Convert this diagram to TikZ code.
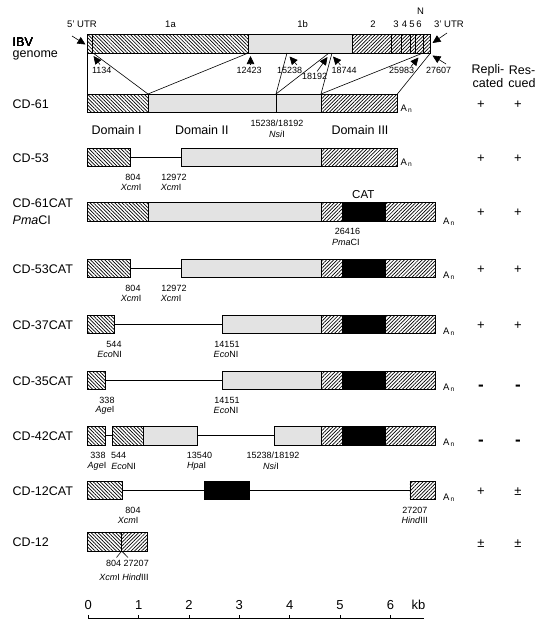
\documentclass[tikz,border=0pt]{standalone}
\usepackage{fontspec}
\setmainfont{Liberation Sans}
\usetikzlibrary{arrows.meta,patterns.meta}
\newcommand{\segm}[4]{\draw[#4] (#1,#3) rectangle (#2,#3+18.5);}
\newcommand{\linkr}[3]{\draw[linker] (#1,#3+9.25) -- (#2,#3+9.25);}
\newcommand{\cattail}[1]{\segm{321}{342.7}{#1}{hatchB}\segm{342.7}{385}{#1}{catseg}\segm{385}{435.6}{#1}{hatchB}}
\newcommand{\nosign}{{\fontsize{17}{17}\selectfont\bfseries -}}
\newcommand{\enz}[2]{\textit{#1}#2}
\newcommand{\polyA}{A\kern1.2pt\textsubscript{n}}

\begin{document}
\begin{tikzpicture}[x=1pt,y=-1pt,
    hatchA/.style={draw,line width=0.6pt,pattern={Lines[angle=-45,distance=2.5pt,line width=0.7pt]}},
    hatchB/.style={draw,line width=0.6pt,pattern={Lines[angle=45,distance=2.5pt,line width=0.7pt]}},
    grayseg/.style={draw,line width=0.6pt,fill=gray!22},
    catseg/.style={draw,line width=0.6pt,fill=black},
    linker/.style={line width=0.6pt},
    rowlbl/.style={anchor=west,inner sep=0pt,font=\fontsize{12.5}{14}\selectfont},
    sitelbl/.style={inner sep=0pt,font=\fontsize{9}{10}\selectfont},
    toplbl/.style={inner sep=0pt,font=\fontsize{9.5}{11}\selectfont},
    signlbl/.style={inner sep=0pt,font=\fontsize{13}{14}\selectfont},
    polylbl/.style={anchor=base west,inner sep=0pt,font=\fontsize{9.5}{11}\selectfont},
    sitearrow/.style={-{Triangle[length=8pt,width=7.5pt]},line width=0.6pt}]
  \useasboundingbox (0,0) rectangle (545,629);

  % IBV genome
  \segm{87.7}{92.3}{34.5}{hatchA}
  \segm{92.3}{248.3}{34.5}{hatchA}
  \segm{248.3}{352.7}{34.5}{grayseg}
  \foreach \a/\b in {352.7/391.7,391.7/401.7,401.7/410,410/415.5,415.5/423.3,423.3/430.5}
    \segm{\a}{\b}{34.5}{hatchB}
  \node[rowlbl] (ibv) at (12.5,41.7) {IBV};
  \node[rowlbl] (genome) at (12.5,55) {genome};
  \node[toplbl] (utr5) at (82,24) {5' UTR};
  \node[toplbl] (orf1a) at (170.5,24) {1a};
  \node[toplbl] (orf1b) at (302.7,24) {1b};
  \node[toplbl] (orf2) at (373,24) {2};
  \node[toplbl] (orf3) at (396,24) {3};
  \node[toplbl] (orf4) at (404.5,24) {4};
  \node[toplbl] (orf5) at (412,24) {5};
  \node[toplbl] (orf6) at (419,24) {6};
  \node[toplbl] (orfN) at (420.5,11.7) {N};
  \node[toplbl] (utr3) at (449,24) {3' UTR};
  \coordinate (t5a) at (72,36);
  \coordinate (t5b) at (85.5,44.5);
  \coordinate (t3a) at (447,33);
  \coordinate (t3b) at (432.5,43);
  \draw[sitearrow] (t5a) -- (t5b);
  \draw[sitearrow] (t3a) -- (t3b);

  % sites on the genome
  \node[sitelbl] (l1134) at (101.7,70.7) {1134};
  \node[sitelbl] (l12423) at (249.2,70.7) {12423};
  \node[sitelbl] (l15238) at (289.7,70.7) {15238};
  \node[sitelbl] (l18192) at (314.7,76.7) {18192};
  \node[sitelbl] (l18744) at (344.2,70.7) {18744};
  \node[sitelbl] (l25983) at (401.7,70.7) {25983};
  \node[sitelbl] (l27607) at (438.7,70.7) {27607};
  \coordinate (a1134) at (100,64.5);    \coordinate (m1134) at (93.5,56);
  \coordinate (a12423) at (250.5,65);   \coordinate (m12423) at (250.5,56);
  \coordinate (a15238) at (297,65);     \coordinate (m15238) at (289.5,56.5);
  \coordinate (a18192) at (317,71.5);   \coordinate (m18192) at (327.5,57);
  \coordinate (a18744) at (340.5,65);   \coordinate (m18744) at (333,56.5);
  \coordinate (a25983) at (411,66.5);   \coordinate (m25983) at (418.5,57.5);
  \coordinate (a27607) at (446,64);     \coordinate (m27607) at (432.5,55.5);
  \foreach \s in {1134,12423,15238,18192,18744,25983,27607}
    \draw[sitearrow] (a\s) -- (m\s);

  % genome to CD-61
  \coordinate (g0) at (87.7,53);
  \coordinate (g1134) at (93,53);
  \coordinate (g12423) at (248.3,53);
  \coordinate (g15238) at (287,53);
  \coordinate (g18192) at (329,53);
  \coordinate (g18744) at (332,53);
  \coordinate (g25983) at (423,53);
  \coordinate (g27607) at (430.5,53);
  \coordinate (c0) at (87.7,94);
  \coordinate (cI) at (148,94);
  \coordinate (cNsi) at (276,94);
  \coordinate (cIII) at (321,94);
  \coordinate (cEnd) at (397.4,94);
  \draw[linker] (g0) -- (c0);
  \draw[linker] (g1134) -- (cI);
  \draw[linker] (g12423) -- (cI);
  \draw[linker] (g15238) -- (cNsi);
  \draw[linker] (g18192) -- (cNsi);
  \draw[linker] (g18744) -- (cIII);
  \draw[linker] (g25983) -- (cIII);
  \draw[linker] (g27607) -- (cEnd);

  % CD-61
  \segm{87.7}{148}{94}{hatchA}
  \segm{148}{276}{94}{grayseg}
  \segm{276}{321}{94}{grayseg}
  \segm{321}{397.4}{94}{hatchB}
  \node[rowlbl] (cd61) at (12.5,104) {CD-61};
  \node[polylbl] (pa61) at (400.5,111) {\polyA};
  \node[rowlbl,anchor=center] (dom1) at (116.6,130) {Domain I};
  \node[rowlbl,anchor=center] (dom2) at (201.8,130) {Domain II};
  \node[rowlbl,anchor=center] (dom3) at (360,130) {Domain III};
  \node[sitelbl] (s61a) at (277,123.5) {15238/18192};
  \node[sitelbl] (s61b) at (277,134) {\enz{Nsi}{I}};

  % CD-53
  \segm{87.7}{129.8}{148}{hatchA}
  \linkr{129.8}{181.6}{148}
  \segm{181.6}{321}{148}{grayseg}
  \segm{321}{397.4}{148}{hatchB}
  \node[rowlbl] (cd53) at (12.5,158) {CD-53};
  \node[polylbl] (pa53) at (400.5,165) {\polyA};
  \node[sitelbl] (s53a) at (133,177) {804};
  \node[sitelbl] (s53b) at (131,187.5) {\enz{Xcm}{I}};
  \node[sitelbl] (s53c) at (174,177) {12972};
  \node[sitelbl] (s53d) at (171,187.5) {\enz{Xcm}{I}};

  % CD-61CAT
  \segm{87.7}{148}{202.5}{hatchA}
  \segm{148}{321}{202.5}{grayseg}
  \cattail{202.5}
  \node[rowlbl] (cd61cat) at (12.5,203.5) {CD-61CAT};
  \node[rowlbl] (cd61pma) at (12.5,220) {\enz{Pma}{CI}};
  \node[polylbl] (pa61cat) at (443,224) {\polyA};
  \node[inner sep=0pt,font=\fontsize{11.5}{13}\selectfont] (cat) at (363.3,195) {CAT};
  \node[sitelbl] (s61ca) at (347.5,231.5) {26416};
  \node[sitelbl] (s61cb) at (345.8,242) {\enz{Pma}{CI}};

  % CD-53CAT
  \segm{87.7}{129.8}{259}{hatchA}
  \linkr{129.8}{181.6}{259}
  \segm{181.6}{321}{259}{grayseg}
  \cattail{259}
  \node[rowlbl] (cd53cat) at (12.5,269) {CD-53CAT};
  \node[polylbl] (pa53cat) at (443,278) {\polyA};
  \node[sitelbl] (s53ca) at (133,288) {804};
  \node[sitelbl] (s53cb) at (131,298.5) {\enz{Xcm}{I}};
  \node[sitelbl] (s53cc) at (174,288) {12972};
  \node[sitelbl] (s53cd) at (171,298.5) {\enz{Xcm}{I}};

  % CD-37CAT
  \segm{87.7}{113.8}{315}{hatchA}
  \linkr{113.8}{222.7}{315}
  \segm{222.7}{321}{315}{grayseg}
  \cattail{315}
  \node[rowlbl] (cd37cat) at (12.5,325) {CD-37CAT};
  \node[polylbl] (pa37cat) at (443,334) {\polyA};
  \node[sitelbl] (s37a) at (114,344) {544};
  \node[sitelbl] (s37b) at (109.6,354.5) {\enz{Eco}{NI}};
  \node[sitelbl] (s37c) at (227,344) {14151};
  \node[sitelbl] (s37d) at (226,354.5) {\enz{Eco}{NI}};

  % CD-35CAT
  \segm{87.7}{105.4}{371}{hatchA}
  \linkr{105.4}{222.7}{371}
  \segm{222.7}{321}{371}{grayseg}
  \cattail{371}
  \node[rowlbl] (cd35cat) at (12.5,381) {CD-35CAT};
  \node[polylbl] (pa35cat) at (443,390) {\polyA};
  \node[sitelbl] (s35a) at (107,400) {338};
  \node[sitelbl] (s35b) at (105,410.5) {\enz{Age}{I}};
  \node[sitelbl] (s35c) at (227,400) {14151};
  \node[sitelbl] (s35d) at (226,410.5) {\enz{Eco}{NI}};

  % CD-42CAT
  \segm{87.7}{105.4}{426.5}{hatchA}
  \linkr{105.4}{112}{426.5}
  \segm{112}{143.7}{426.5}{hatchA}
  \segm{143.7}{197.6}{426.5}{grayseg}
  \linkr{197.6}{273.8}{426.5}
  \segm{273.8}{321}{426.5}{grayseg}
  \cattail{426.5}
  \node[rowlbl] (cd42cat) at (12.5,436.5) {CD-42CAT};
  \node[polylbl] (pa42cat) at (443,445.5) {\polyA};
  \node[sitelbl] (s42a) at (98,455.5) {338};
  \node[sitelbl] (s42b) at (97,466) {\enz{Age}{I}};
  \node[sitelbl] (s42c) at (118.7,455.5) {544};
  \node[sitelbl] (s42d) at (123.6,466) {\enz{Eco}{NI}};
  \node[sitelbl] (s42e) at (199.5,455.5) {13540};
  \node[sitelbl] (s42f) at (196.6,466) {\enz{Hpa}{I}};
  \node[sitelbl] (s42g) at (273,455.5) {15238/18192};
  \node[sitelbl] (s42h) at (271,466) {\enz{Nsi}{I}};

  % CD-12CAT
  \segm{87.7}{122.5}{481}{hatchA}
  \linkr{122.5}{204.2}{481}
  \segm{204.2}{248.8}{481}{catseg}
  \linkr{248.8}{409.9}{481}
  \segm{409.9}{435.6}{481}{hatchB}
  \node[rowlbl] (cd12cat) at (12.5,491) {CD-12CAT};
  \node[polylbl] (pa12cat) at (443,500.5) {\polyA};
  \node[sitelbl] (s12ca) at (133,510) {804};
  \node[sitelbl] (s12cb) at (128,520.5) {\enz{Xcm}{I}};
  \node[sitelbl] (s12cc) at (414.8,510) {27207};
  \node[sitelbl] (s12cd) at (414.8,520.5) {\enz{Hind}{III}};

  % CD-12
  \segm{87.3}{121.7}{532.5}{hatchA}
  \segm{121.7}{147.3}{532.5}{hatchB}
  \node[rowlbl] (cd12) at (12.5,542.5) {CD-12};
  \coordinate (j12) at (121.7,551);
  \coordinate (j804) at (116.5,557.5);
  \coordinate (j27207) at (128,557.5);
  \draw[linker] (j804) -- (j12) -- (j27207);
  \node[sitelbl] (s12a) at (127.5,563.3) {804 27207};
  \node[sitelbl] (s12b) at (124,577.3) {\enz{Xcm}{I} \enz{Hind}{III}};

  % replicated / rescued
  \node[signlbl,font=\fontsize{12.5}{14}\selectfont] (rep) at (488,70.7) {Repli-};
  \node[signlbl,font=\fontsize{12.5}{14}\selectfont] (repb) at (488,83.3) {cated};
  \node[signlbl,font=\fontsize{12.5}{14}\selectfont] (res) at (522,70.7) {Res-};
  \node[signlbl,font=\fontsize{12.5}{14}\selectfont] (resb) at (522,83.3) {cued};
  \foreach \i/\y/\p/\q in {1/104.8/+/+, 2/158.8/+/+, 3/213/+/+, 4/269.8/+/+, 5/325.8/+/+,
      6/387.3/\nosign/\nosign, 7/442.8/\nosign/\nosign, 8/491.7/+/±, 9/543.3/±/±}
    {\node[signlbl] (rep\i) at (481,\y) {\p};
     \node[signlbl] (res\i) at (518,\y) {\q};}

  % scale
  \coordinate (sc0) at (88.3,618.3);
  \coordinate (sc1) at (423.8,618.3);
  \draw[linker] (sc0) -- (sc1);
  \foreach \k in {0,...,6}
    {\draw[linker] (88.3+50.35*\k,618.3) -- (88.3+50.35*\k,615);
     \node[signlbl,anchor=base] (kb\k) at (88.3+50.35*\k,609.7) {\k};}
  \node[signlbl,anchor=base] (kbunit) at (418.4,609.7) {kb};
\end{tikzpicture}
\end{document}
